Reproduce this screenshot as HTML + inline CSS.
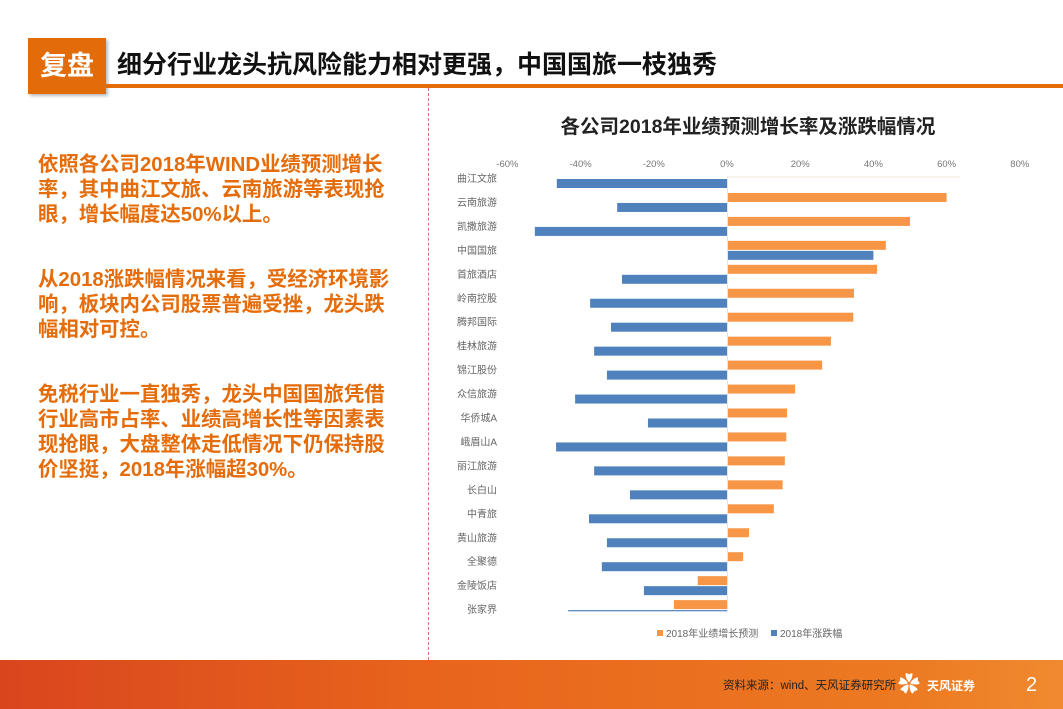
<!DOCTYPE html>
<html><head><meta charset="utf-8">
<style>
body{margin:0;width:1063px;height:709px;position:relative;overflow:hidden;background:#fff;font-family:"Liberation Sans","Noto Sans CJK SC",sans-serif;}
.abs{position:absolute;}
.lt{position:absolute;left:38px;color:#e46c0a;font-weight:bold;font-size:20.4px;white-space:nowrap;line-height:25px;}
</style></head><body>
<div class="abs" style="left:28px;top:38px;width:78px;height:56px;background:#e36c0a;box-shadow:2px 2px 3px #bbb;color:#fff;font-size:27px;font-weight:bold;line-height:56px;text-align:center;">复盘</div>
<div class="abs" style="left:106px;top:84px;width:957px;height:4px;background:#e36c0a;"></div>
<div class="abs" style="left:117px;top:45px;font-size:25px;font-weight:bold;color:#111;white-space:nowrap;">细分行业龙头抗风险能力相对更强，中国国旅一枝独秀</div>
<div class="abs" style="left:428px;top:88px;width:0;height:572px;border-left:1px dashed #e07070;"></div>
<div>
<div class="lt" style="top:153px">依照各公司2018年WIND业绩预测增长</div>
<div class="lt" style="top:178px">率，其中曲江文旅、云南旅游等表现抢</div>
<div class="lt" style="top:203px">眼，增长幅度达50%以上。</div>
<div class="lt" style="top:268px">从2018涨跌幅情况来看，受经济环境影</div>
<div class="lt" style="top:293px">响，板块内公司股票普遍受挫，龙头跌</div>
<div class="lt" style="top:318px">幅相对可控。</div>
<div class="lt" style="top:383px">免税行业一直独秀，龙头中国国旅凭借</div>
<div class="lt" style="top:408px">行业高市占率、业绩高增长性等因素表</div>
<div class="lt" style="top:433px">现抢眼，大盘整体走低情况下仍保持股</div>
<div class="lt" style="top:458px">价坚挺，2018年涨幅超30%。</div>
</div>
<svg class="abs" style="left:0;top:0" width="1063" height="660" id="chart">
<text x="748" y="133" text-anchor="middle" font-size="19.5" font-weight="bold" fill="#222" font-family="Liberation Sans,Noto Sans CJK SC,sans-serif">各公司2018年业绩预测增长率及涨跌幅情况</text>
</svg>
<div class="abs" style="left:0;top:660px;width:1063px;height:49px;background:linear-gradient(90deg,#d9461e 0%,#e8641c 40%,#ec7a22 85%,#f08a30 100%);"></div>
<div class="abs" style="left:723px;top:677px;font-size:11.5px;color:#222;white-space:nowrap;">资料来源：wind、天风证券研究所</div>
<div class="abs" style="left:898px;top:672px;width:26px;height:26px;color:#fff;font-size:22px;line-height:26px;">✿</div>
<div class="abs" style="left:927px;top:677px;color:#fff;font-size:12px;font-weight:bold;">天风证券</div>
<div class="abs" style="left:1026px;top:674px;color:#fff;font-size:20px;">2</div>
<script>
const categories=["曲江文旅","云南旅游","凯撒旅游","中国国旅","首旅酒店","岭南控股","腾邦国际","桂林旅游","锦江股份","众信旅游","华侨城A","峨眉山A","丽江旅游","长白山","中青旅","黄山旅游","全聚德","金陵饭店","张家界"];
const growth=[0,60,50,43.4,41,34.7,34.5,28.4,26,18.6,16.4,16.2,15.8,15.2,12.8,6,4.4,-8,-14.5];
const change=[-46.5,-30,-52.5,40,-28.7,-37.4,-31.7,-36.3,-32.8,-41.5,-21.6,-46.7,-36.3,-26.5,-37.7,-32.8,-34.2,-22.7,-43.4];
const ticks=[-60,-40,-20,0,20,40,60,80];
const svg=document.getElementById('chart');const NS='http://www.w3.org/2000/svg';
const x=v=>727+v*3.66;
const rowY=i=>178+i*23.95;
function mk(t,a){const e=document.createElementNS(NS,t);for(const k in a)e.setAttribute(k,a[k]);svg.appendChild(e);return e;}
ticks.forEach(t=>{const e=mk('text',{x:x(t),y:167,'text-anchor':'middle','font-size':9.5,fill:'#777'});e.textContent=t+'%';

});
const g=mk('line',{x1:727,x2:960,y1:177,y2:177,stroke:'#f0e4d8','stroke-width':1});


categories.forEach((c,i)=>{const yc=rowY(i);
const l=mk('text',{x:497,y:yc+4,'text-anchor':'end','font-size':10,fill:'#666'});l.textContent=c;


if(growth[i]!==0){const v=growth[i];const r=mk('rect',{x:Math.min(x(0),x(v)),y:yc-9,width:Math.abs(x(v)-x(0)),height:9,fill:'#f79646'});

}
const v=change[i];const last=i===categories.length-1;
const b=mk('rect',{x:Math.min(x(0),x(v)),y:last?yc+1:yc+1,width:Math.abs(x(v)-x(0)),height:last?1.2:9,fill:'#4f81bd'});


});
mk('line',{x1:727.5,x2:727.5,y1:177,y2:612,stroke:'#dde6f0','stroke-width':1});
const lg=[['#f79646','2018年业绩增长预测',657],['#4f81bd','2018年涨跌幅',771]];
lg.forEach(([c,t,lx])=>{const r=mk('rect',{x:lx,y:630,width:6,height:6,fill:c});


const e=mk('text',{x:lx+9,y:637,'font-size':10,fill:'#666'});e.textContent=t;

});
</script>
</body></html>
